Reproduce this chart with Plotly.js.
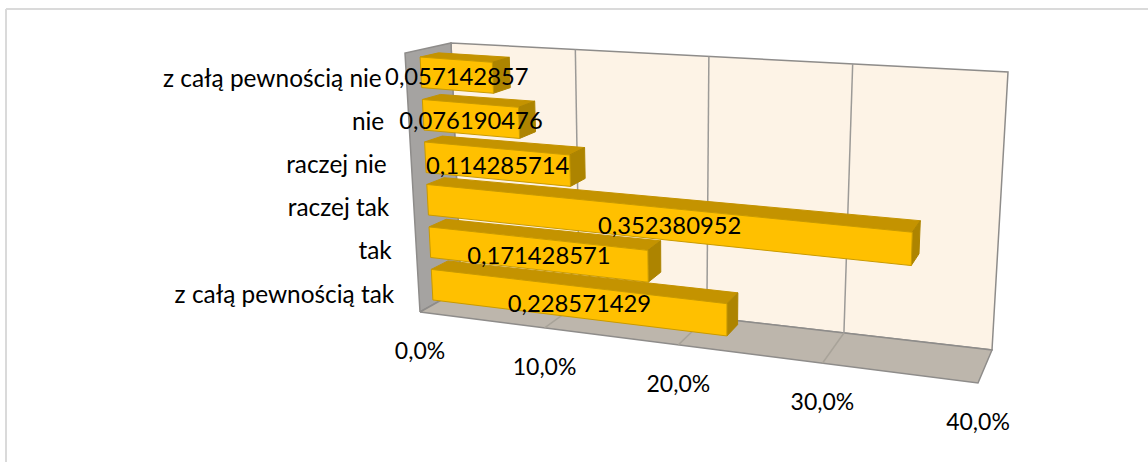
<!DOCTYPE html>
<html>
<head>
<meta charset="utf-8">
<script src="https://cdn.plot.ly/plotly-3.0.1.min.js"></script>
<style>html,body{margin:0;padding:0;background:#fff}#c{width:1148px;height:462px}</style>
</head>
<body>
<div id="c"></div>
<script>
// ---- data (top to bottom on the picture) ----
const categories = ["z całą pewnością nie", "nie", "raczej nie", "raczej tak", "tak", "z całą pewnością tak"];
const values = [0.057142857, 0.076190476, 0.114285714, 0.352380952, 0.171428571, 0.228571429];
const tickValues = [0, 0.1, 0.2, 0.3, 0.4];
const tickLabels = ["0,0%", "10,0%", "20,0%", "30,0%", "40,0%"];

// ---- styles ----
const FONT = "Lato, Carlito, Calibri, sans-serif";
const C = {front:"#FFC000", frontEdge:"#C99A00", top:"#C49300", side:"#AD8400",
  back:"#FDF3E6", left:"#A5A3A1", floor:"#BDB6AC", wallLine:"#8E8C8A", grid:"#9C9A97", floorGrid:"#A8A399", border:"#DADADA"};

// ---- projection of the 3D box onto the page ----
const AXMAX = 0.4, PERSP = 0.16;
const box = {
  fbl:[420,312], fbr:[978,383], bbl:[461,289], bbr:[992,350],
  ftl:[405,53],  ftr:[989,100], btl:[451,43],  btr:[1008,72]
};
const mix = (a,b,t)=>[a[0]+(b[0]-a[0])*t, a[1]+(b[1]-a[1])*t];
function proj(v,d,h){
  const u = v/AXMAX, t = u/(1+PERSP*(1-u));
  const fb = mix(box.fbl,box.fbr,t), bb = mix(box.bbl,box.bbr,t);
  const ft = mix(box.ftl,box.ftr,t), bt = mix(box.btl,box.btr,t);
  return mix(mix(fb,bb,d), mix(ft,bt,d), h);
}
const traces = [];
function poly(pts,fill,line,w){
  const p = pts.concat([pts[0]]);
  traces.push({type:"scatter",mode:"lines",x:p.map(q=>q[0]),y:p.map(q=>q[1]),fill:"toself",fillcolor:fill,
    line:{color:line||fill,width:w===undefined?1:w},hoverinfo:"skip",showlegend:false});
}
function seg(a,b,color,w){
  traces.push({type:"scatter",mode:"lines",x:[a[0],b[0]],y:[a[1],b[1]],line:{color:color,width:w},hoverinfo:"skip",showlegend:false});
}
// walls
poly([proj(0,1,0),proj(AXMAX,1,0),proj(AXMAX,1,1),proj(0,1,1)],C.back,C.wallLine,1.5);
poly([proj(0,0,0),proj(0,1,0),proj(0,1,1),proj(0,0,1)],C.left,C.wallLine,1.5);
poly([proj(0,0,0),proj(AXMAX,0,0),proj(AXMAX,1,0),proj(0,1,0)],C.floor,C.wallLine,1.5);
// gridlines
tickValues.slice(1,-1).forEach(v=>{
  seg(proj(v,1,0),proj(v,1,1),C.grid,1.5);
  seg(proj(v,0,0),proj(v,1,0),C.floorGrid,1.5);
});
// bars
const n = categories.length, D0 = 0.32, D1 = 0.72, FILL = 0.72, SHIFT = 0.005;
categories.forEach((c,i)=>{
  const mid = 1-(i+0.5)/n-SHIFT, half = FILL/n/2, lo = mid-half, hi = mid+half, v = values[i];
  poly([proj(0,D0,hi),proj(v,D0,hi),proj(v,D1,hi),proj(0,D1,hi)],C.top);
  poly([proj(v,D0,lo),proj(v,D1,lo),proj(v,D1,hi),proj(v,D0,hi)],C.side);
  poly([proj(0,D0,lo),proj(v,D0,lo),proj(v,D0,hi),proj(0,D0,hi)],C.front,C.frontEdge,1);
});
// texts
const txt = (x,y,t,pos,size)=>traces.push({type:"scatter",mode:"text",x:x,y:y,text:t,textposition:pos,
  textfont:{family:FONT,size:size,color:"#000"},hoverinfo:"skip",showlegend:false,cliponaxis:false});
const catAnchors = categories.map((c,i)=>proj(0,0,1-(i+0.5)/n));
txt(catAnchors.map(p=>p[0]-24.5),catAnchors.map(p=>p[1]+6),categories,"middle left",24.4);
const valAnchors = values.map((v,i)=>mix(proj(0,D0,1-(i+0.5)/n),proj(v,D0,1-(i+0.5)/n),0.5));
txt(valAnchors.map(p=>p[0]),valAnchors.map(p=>p[1]+5.5),values.map(v=>String(v).replace(".",",")),"middle center",23.8);
const tickAnchors = tickValues.map(v=>proj(v,0,0));
txt(tickAnchors.map(p=>p[0]),tickAnchors.map(p=>p[1]+41),tickLabels,"middle center",23);

const layout = {
  width:1148,height:462,margin:{l:0,r:0,t:0,b:0},paper_bgcolor:"#fff",plot_bgcolor:"#fff",showlegend:false,
  xaxis:{range:[0,1148],visible:false,fixedrange:true},
  yaxis:{range:[462,0],visible:false,fixedrange:true},
  shapes:[
    {type:"line",xref:"x",yref:"y",x0:6,y0:9,x1:1148,y1:9,line:{color:C.border,width:2}},
    {type:"line",xref:"x",yref:"y",x0:6,y0:9,x1:6,y1:462,line:{color:C.border,width:2}}
  ]
};
Plotly.newPlot("c",traces,layout,{displayModeBar:false,staticPlot:true});
</script>
</body>
</html>
